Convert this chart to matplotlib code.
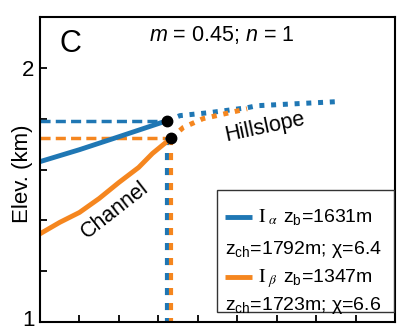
import numpy as np
import matplotlib.pyplot as plt
from matplotlib.patches import Rectangle
from matplotlib.transforms import ScaledTranslation

plt.rcParams['font.family'] = 'Liberation Sans'
plt.rcParams['mathtext.fontset'] = 'custom'
plt.rcParams['mathtext.rm'] = 'Liberation Sans'
plt.rcParams['mathtext.it'] = 'Liberation Sans:italic'

blue = '#1f77b4'
orange = '#f5861f'

# channel profiles (distance in arbitrary units, elevation in km)
chan_a_x = [0, 1.0, 2.0, 3.22]
chan_a_z = [1.631, 1.678, 1.729, 1.792]
chan_b_x = [0, 0.5, 1.0, 1.5, 2.0, 2.5, 2.85, 3.32]
chan_b_z = [1.347, 1.392, 1.431, 1.486, 1.549, 1.608, 1.663, 1.723]

# hillslope profiles above the channel heads
hill_a_x = [3.22, 3.55, 4.31, 5.25, 5.50, 6.52, 7.53]
hill_a_z = [1.792, 1.812, 1.824, 1.843, 1.851, 1.859, 1.867]
hill_b_x = [3.32, 3.63, 4.13, 4.82, 5.25]
hill_b_z = [1.723, 1.765, 1.800, 1.824, 1.839]

# legend values
z_b = [1631, 1347]
z_ch = [1792, 1723]
chi = [6.4, 6.6]
names = [r'$\mathrm{I}_{\ \alpha}$', r'$\mathrm{I}_{\ \beta}$']

fig = plt.figure(figsize=(3.98, 3.31), dpi=100)
ax = fig.add_axes([0.1005, 0.0272, 0.892, 0.9214])
ymin = 1.0

# channel-head levels and drop lines
ax.plot([0, chan_a_x[-1]], [chan_a_z[-1]] * 2, color=blue, lw=2.5, dashes=(2.9, 1.5))
ax.plot([0, chan_b_x[-1]], [chan_b_z[-1]] * 2, color=orange, lw=2.5, dashes=(2.9, 1.5))
ax.plot([chan_a_x[-1]] * 2, [chan_b_z[-1], ymin], color=blue, lw=3, dashes=(1.7, 1.9))
ax.plot([chan_b_x[-1]] * 2, [chan_b_z[-1], ymin], color=orange, lw=3, dashes=(1.7, 1.9))

ax.plot(hill_a_x, hill_a_z, color=blue, lw=3.6, dashes=(1, 1.35))
ax.plot(hill_b_x, hill_b_z, color=orange, lw=3.6, dashes=(1, 1.35))

ax.plot(chan_a_x, chan_a_z, color=blue, lw=3.5)
ax.plot(chan_b_x, chan_b_z, color=orange, lw=3.5)

ax.plot([chan_a_x[-1], chan_b_x[-1]], [chan_a_z[-1], chan_b_z[-1]], 'ko', ms=7.5, zorder=4)

ax.set_xlim(0, 9)
ax.set_ylim(ymin, 2.2)
ax.set_xticks(np.arange(0, 10))
ax.set_xticklabels([])
ax.set_yticks([1.0, 1.2, 1.4, 1.6, 1.8, 2.0])
ax.set_yticklabels(['1', '', '', '', '', '2'])
ax.tick_params(direction='in', length=5, width=1.3, labelsize=16, pad=4)
for s in ax.spines.values():
    s.set_linewidth(1.5)

# lift the bottom "1" a little so it sits inside the figure
lab = ax.get_yticklabels()[0]
lab.set_transform(lab.get_transform() + ScaledTranslation(0, 4 / 100, fig.dpi_scale_trans))

ax.set_ylabel('Elev. (km)', fontsize=16)
ax.yaxis.set_label_coords(-0.02, 0.485)

ax.text(0.085, 0.911, 'C', transform=ax.transAxes, fontsize=22, ha='center', va='center')
ax.text(0.513, 0.941, '$m$ = 0.45; $n$ = 1', transform=ax.transAxes, fontsize=15.5,
        ha='center', va='center')
ax.text(1.90, 1.439, 'Channel', fontsize=15.5, rotation=38, ha='center', va='center')
ax.text(5.70, 1.765, 'Hillslope', fontsize=15.5, rotation=12, ha='center', va='center')

# legend box
ax.add_patch(Rectangle((0.499, 0.033), 0.497, 0.40, transform=ax.transAxes,
                       facecolor='white', edgecolor='#333333', lw=1, zorder=5))
rows = [(0.328, 0.223), (0.131, 0.039)]
for i, c in enumerate([blue, orange]):
    y1, y2 = rows[i]
    ax.plot([0.521, 0.597], [y1 + 0.016] * 2, transform=ax.transAxes, color=c, lw=3.5,
            solid_capstyle='butt', zorder=6)
    ax.text(0.614, y1, names[i], transform=ax.transAxes, fontsize=14, va='baseline',
            math_fontfamily='stix', zorder=6)
    ax.text(0.685, y1, r'$\mathrm{z}_{\mathrm{b}}$=%dm' % z_b[i], transform=ax.transAxes,
            fontsize=14, va='baseline', zorder=6)
    ax.text(0.521, y2, r'$\mathrm{z}_{\mathrm{ch}}$=%dm; χ=%.1f' % (z_ch[i], chi[i]),
            transform=ax.transAxes, fontsize=14, va='baseline', zorder=6)

fig.savefig('out.png', dpi=100)
